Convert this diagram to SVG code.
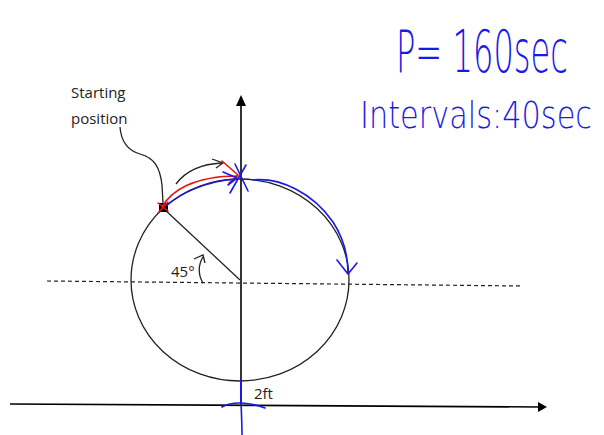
<svg xmlns="http://www.w3.org/2000/svg" width="604" height="435" viewBox="0 0 604 435">
<style>
.ax{stroke:#000;stroke-width:1.6;fill:none}
.thin{stroke:#222;stroke-width:1.3;fill:none}
.blue{stroke:#1a1ae6;stroke-width:1.6;fill:none;stroke-linecap:round;stroke-linejoin:round}
.red{stroke:#e81414;stroke-width:1.6;fill:none;stroke-linecap:round;stroke-linejoin:round}
.lbl{font-family:"Open Sans","Liberation Sans",sans-serif;font-size:15px;fill:#222}
.hw{font-family:"DejaVu Sans",sans-serif;font-weight:200;fill:#1a1ae6}
</style>
<rect width="604" height="435" fill="#fff"/>
<g id="axes">
<line class="ax" x1="10" y1="404" x2="540" y2="407"/>
<polygon points="547,407 538,402 538,412" fill="#000"/>
<line class="ax" x1="241" y1="104" x2="241" y2="405"/>
<polygon points="241,95 236,106 246,106" fill="#000"/>
<line x1="47" y1="281" x2="523" y2="286" stroke="#222" stroke-width="1.2" stroke-dasharray="4,3"/>
</g>
<g id="circle">
<ellipse class="thin" cx="240" cy="280" rx="109" ry="101"/>
<line class="thin" x1="163" y1="208" x2="240" y2="280" stroke-width="1.5"/>
<rect x="159" y="203" width="9" height="9" fill="#000"/>
</g>
<g id="start-label">
<text class="lbl" x="71" y="98">Starting</text>
<text class="lbl" x="71" y="124">position</text>
</g>
<g id="angle">
<text class="lbl" x="171" y="277">45°</text>
</g>
<g id="radius-label">
<text class="lbl" x="254" y="399">2ft</text>
</g>
<g id="connectors">
<path class="thin" stroke-width="1.5" d="M120,127 C121,140 126,150 140,154 C155,158 160,168 162,185 L163,203"/>
<path class="thin" stroke-width="1.5" d="M176,184 C185,172 200,164 222,163"/>
<path class="thin" stroke-width="1.5" d="M212,159 L223,163 L216,168"/>
<path class="thin" stroke-width="1.4" d="M203,283 C198,275 198,265 203,257"/>
<path class="thin" stroke-width="1.4" d="M194,259 L203,255 L205,263"/>
<path class="red" d="M158,213 L168,202 M158,203 L168,211"/>
<path class="red" d="M162,207 C171,191 193,176 238,176"/>
<path class="red" d="M222,161 L238,175 L229,183"/>
<path class="blue" d="M166,206 C181,193 206,181 237,179"/>
<path class="blue" d="M223,172 L237,178 L228,185"/>
<path class="blue" d="M235,164 L248,191 M246,165 L230,193"/>
<path class="blue" d="M253,180 C280,177 313,193 333,222 C344,239 348,256 348,273"/>
<path class="blue" d="M337,260 L348,274 L357,263"/>
<path class="blue" d="M241,379 C240,395 242,415 242,435"/>
<path class="blue" d="M222,407 C232,401 250,402 265,408"/>
</g>
<g id="notes">
<text class="hw" font-size="29" transform="translate(396,72) scale(1,2.05)" textLength="172" lengthAdjust="spacingAndGlyphs">P= 160sec</text>
<text class="hw" font-size="28" transform="translate(360,128) scale(1,1.36)" textLength="232" lengthAdjust="spacingAndGlyphs">Intervals:40sec</text>
</g>
</svg>
